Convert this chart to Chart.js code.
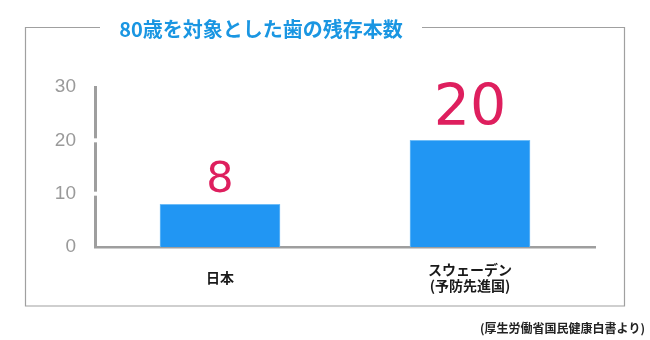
<!DOCTYPE html>
<html lang="ja">
<head>
<meta charset="utf-8">
<title>80歳を対象とした歯の残存本数</title>
<script src="https://cdn.jsdelivr.net/npm/chart.js@4"></script>
<style>
    html, body { margin: 0; padding: 0; background: #fff; }
    #wrap { width: 650px; height: 340px; position: relative; }
</style>
</head>
<body>
<div id="wrap"><canvas id="grafico"></canvas></div>
<script>
// dados do gráfico
const categorias = [['日本'], ['スウェーデン', '(予防先進国)']];
const dentes = [8, 20];
const yTicks = [0, 10, 20, 30];
const titulo = '80歳を対象とした歯の残存本数';
const fonte = '(厚生労働省国民健康白書より)';

const CJK = '"Noto Sans CJK JP", "Noto Sans", sans-serif';
const NUM = '"Liberation Sans", Arial, sans-serif';
const NUM_LARGO = '"DejaVu Sans", sans-serif';

// moldura com o título cortando a linha de cima + nota da fonte
const moldura = {
    id: 'moldura',
    beforeDraw(chart) {
        const ctx = chart.ctx;
        ctx.save();
        ctx.strokeStyle = '#a0a0a0';
        ctx.lineWidth = 1.2;
        ctx.beginPath();
        ctx.moveTo(100, 27.5);
        ctx.lineTo(25.5, 27.5);
        ctx.lineTo(25.5, 306);
        ctx.lineTo(624.5, 306);
        ctx.lineTo(624.5, 27.5);
        ctx.lineTo(422, 27.5);
        ctx.stroke();

        ctx.fillStyle = '#1a96e2';
        ctx.font = 'bold 20px ' + CJK;
        ctx.textAlign = 'center';
        ctx.textBaseline = 'middle';
        ctx.fillText(titulo, 261, 29);

        ctx.fillStyle = '#222';
        ctx.font = 'bold 12px ' + CJK;
        ctx.textAlign = 'right';
        ctx.fillText(fonte, 645, 328);
        ctx.restore();
    },
    afterDraw(chart) {
        // pequenos cortes no eixo y nas marcas 10 e 20
        const ctx = chart.ctx;
        const y = chart.scales.y;
        ctx.save();
        ctx.fillStyle = '#fff';
        [10, 20].forEach(v => {
            const py = y.getPixelForValue(v);
            ctx.fillRect(y.right - 4, py - 2, 8, 4);
        });
        ctx.restore();
    }
};

// valores em cima das barras
const rotulos = {
    id: 'rotulos',
    afterDatasetsDraw(chart) {
        const ctx = chart.ctx;
        const meta = chart.getDatasetMeta(0);
        const tamanhos = [43, 57];
        const folgas = [12, 15];
        ctx.save();
        ctx.fillStyle = '#de1f5e';
        ctx.textAlign = 'center';
        ctx.textBaseline = 'alphabetic';
        meta.data.forEach((bar, i) => {
            ctx.font = tamanhos[i] + 'px ' + NUM_LARGO;
            ctx.fillText(String(chart.data.datasets[0].data[i]), bar.x, bar.y - folgas[i]);
        });
        ctx.restore();
    }
};

const ctx = document.querySelector('#grafico').getContext('2d');

new Chart(ctx, {
    type: 'bar',
    data: {
        labels: categorias,
        datasets: [
        {
            data: dentes,
            backgroundColor: '#2196f3',
            borderColor: '#6fbdf7',
            borderWidth: 1,
            barThickness: 120
        }
        ]
    },
    options: {
        responsive: true,
        maintainAspectRatio: false,
        animation: false,
        layout: {
            padding: { left: 0, right: 55, top: 87, bottom: 33 }
        },
        plugins: {
            legend: { display: false },
            title: { display: false },
            tooltip: { enabled: false }
        },
        scales: {
            x: {
                grid: { display: false },
                border: { display: true, color: '#9e9e9e', width: 2.5 },
                ticks: {
                    color: '#1a1a1a',
                    font: { family: CJK, size: 14, weight: 'bold', lineHeight: 1.12 },
                    padding: 15,
                    crossAlign: 'center',
                    maxRotation: 0
                },
                afterFit(scale) { scale.height = 60; }
            },
            y: {
                min: 0,
                max: 30,
                grid: { display: false },
                border: { display: true, color: '#9e9e9e', width: 3 },
                ticks: {
                    color: '#9a9a9a',
                    font: { family: NUM, size: 19 },
                    padding: 11
                },
                afterBuildTicks(scale) {
                    scale.ticks = yTicks.map(v => ({ value: v }));
                },
                afterFit(scale) { scale.width = 95; }
            }
        }
    },
    plugins: [moldura, rotulos]
});
</script>
</body>
</html>
